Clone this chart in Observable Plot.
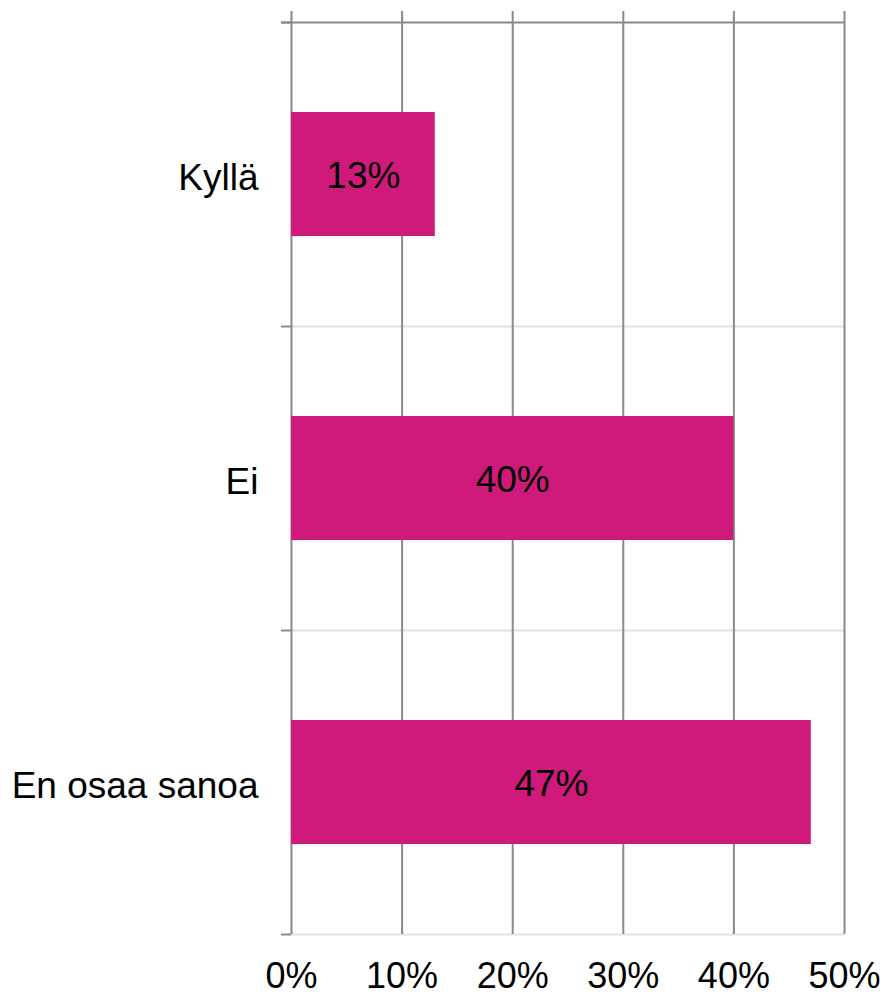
<!DOCTYPE html>
<html>
<head>
<meta charset="utf-8">
<script src="https://cdn.jsdelivr.net/npm/d3@7"></script>
<script src="https://cdn.jsdelivr.net/npm/@observablehq/plot@0.6"></script>
<style>
  html, body { margin: 0; padding: 0; background: #fff; }
  #chart { width: 886px; height: 996px; }
</style>
</head>
<body>
<div id="chart"></div>
<script>
const categories = ["Kyllä", "Ei", "En osaa sanoa"];
const values = [13, 40, 47];
const xTicks = [0, 10, 20, 30, 40, 50];

const data = categories.map((c, i) => ({category: c, value: values[i]}));

const W = 886, H = 996;
const marginTop = 22, marginBottom = 62, marginLeft = 291, marginRight = 42;
const step = (H - marginTop - marginBottom) / categories.length;
const dark = "#898989", light = "#e3e3e3";
const font = "Arial, 'Liberation Sans', sans-serif";

const chart = Plot.plot({
  width: W,
  height: H,
  marginTop, marginBottom, marginLeft, marginRight,
  style: {fontFamily: font, background: "#fff"},
  x: {domain: [0, 50], ticks: xTicks, tickFormat: d => d + "%"},
  y: {domain: categories, paddingInner: 0.592, paddingOuter: 0.296},
  marks: [
    // light horizontal lines at band boundaries (middle + bottom)
    Plot.ruleY(categories.slice(1), {y: d => d, dy: -step / 2, stroke: light, strokeWidth: 2}),
    Plot.ruleY(categories.slice(-1), {y: d => d, dy: step / 2, stroke: light, strokeWidth: 2}),
    // small dark ticks left of the axis at band boundaries
    Plot.ruleY(categories, {y: d => d, x1: 0, x2: 0, dy: -step / 2, insetLeft: -10, stroke: dark, strokeWidth: 2}),
    Plot.ruleY(categories.slice(-1), {y: d => d, x1: 0, x2: 0, dy: step / 2, insetLeft: -10, stroke: dark, strokeWidth: 2}),
    // top dark line
    Plot.ruleY(categories.slice(0, 1), {y: d => d, dy: -step / 2, insetLeft: -10, stroke: dark, strokeWidth: 2}),
    // vertical gridlines extending above the top line
    Plot.ruleX(xTicks, {insetTop: -11, stroke: dark, strokeWidth: 2}),
    // bars
    Plot.barX(data, {y: "category", x: "value", fill: "#cf1a7b"}),
    // value labels
    Plot.text(data, {y: "category", x: d => d.value / 2, text: d => d.value + "%", fontSize: 37, fill: "#000", dy: 2}),
    // axes
    Plot.axisX({anchor: "bottom", ticks: xTicks, tickSize: 0, tickPadding: 28, fontSize: 36, label: null, tickFormat: d => d + "%", fill: "#000"}),
    Plot.axisY({anchor: "left", tickSize: 0, tickPadding: 33, fontSize: 37, label: null, fill: "#000", dy: 4})
  ]
});

document.getElementById("chart").appendChild(chart);
</script>
</body>
</html>
